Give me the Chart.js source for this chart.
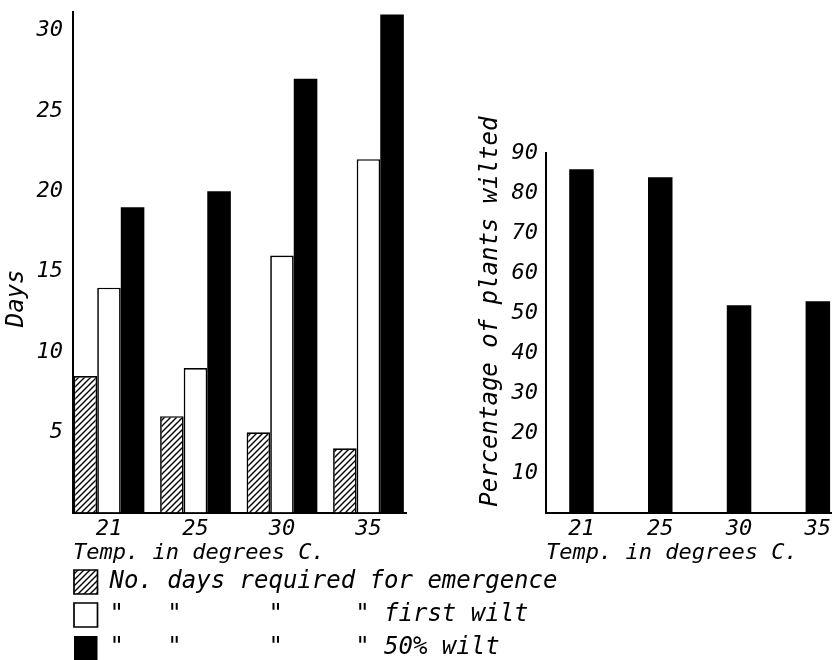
<!DOCTYPE html>
<html><head><meta charset="utf-8">
<script src="https://cdn.jsdelivr.net/npm/chart.js@4.4.1/dist/chart.umd.min.js"></script>
<style>
html,body{margin:0;padding:0;background:#fff;width:834px;height:660px;overflow:hidden;position:relative;}
canvas{position:absolute;left:0;top:0;}
</style></head><body>
<canvas id="days" width="834" height="680"></canvas>
<canvas id="pct" width="834" height="680"></canvas>
<script>
// ---- data ----
const temps = ['21', '25', '30', '35'];
const emergenceDays = [8.5, 6, 5, 4];
const firstWiltDays = [14, 9, 16, 22];
const fiftyWiltDays = [19, 20, 27, 31];
const plantsWiltedPct = [86, 84, 52, 53];
const dayTicks = [5, 10, 15, 20, 25, 30];
const pctTicks = [10, 20, 30, 40, 50, 60, 70, 80, 90];
const legendLabels = [
  'No. days required for emergence',
  '"   "      "     " first wilt',
  '"   "      "     " 50% wilt'
];
const xTitle = 'Temp. in degrees C.';
const daysTitle = 'Days';
const pctTitle = 'Percentage of plants wilted';

// ---- styling ----
const FAM = '"DejaVu Sans Mono", monospace';
const F = (size) => ({ family: FAM, size: size, style: 'italic' });
const INK = '#000';

function makeHatch(ctx) {
  const c = document.createElement('canvas');
  c.width = 6; c.height = 6;
  const g = c.getContext('2d');
  g.fillStyle = '#fff'; g.fillRect(0, 0, 6, 6);
  g.strokeStyle = INK; g.lineWidth = 1.4;
  g.beginPath();
  g.moveTo(0, 6); g.lineTo(6, 0);
  g.moveTo(-1, 1); g.lineTo(1, -1);
  g.moveTo(5, 7); g.lineTo(7, 5);
  g.stroke();
  return ctx.createPattern(c, 'repeat');
}

const toPoints = (arr) => arr.map((v, i) => ({ x: i, y: v }));
const catTicks = (s) => { s.ticks = temps.map((_, i) => ({ value: i })); };
const noPad = (s) => { s.paddingTop = 0; s.paddingBottom = 0; s.paddingLeft = 0; s.paddingRight = 0; };

// lets the y tick labels and the legend draw outside their narrow layout boxes
const widenBoxes = {
  id: 'widenBoxes',
  afterLayout(chart) {
    if (chart.scales.y) chart.scales.y.left = 0;
    if (chart.legend) chart.legend.right = chart.width;
  }
};

const daysCanvas = document.getElementById('days');
const hatch = makeHatch(daysCanvas.getContext('2d'));

new Chart(daysCanvas, {
  type: 'bar',
  data: {
    datasets: [
      { label: legendLabels[0], data: toPoints(emergenceDays), backgroundColor: hatch, borderColor: INK, borderWidth: 1.7 },
      { label: legendLabels[1], data: toPoints(firstWiltDays), backgroundColor: '#fff', borderColor: INK, borderWidth: 1.7 },
      { label: legendLabels[2], data: toPoints(fiftyWiltDays), backgroundColor: INK, borderColor: INK, borderWidth: 0 }
    ]
  },
  plugins: [widenBoxes],
  options: {
    responsive: false,
    animation: false,
    layout: { padding: { left: 65, right: 428, top: 12, bottom: 10 } },
    datasets: { bar: { categoryPercentage: 0.818, barPercentage: 1 } },
    plugins: {
      legend: {
        position: 'bottom', align: 'start',
        labels: { font: F(24), color: INK, boxWidth: 23.5, boxHeight: 24, padding: 9 }
      },
      tooltip: { enabled: false }
    },
    scales: {
      x: {
        type: 'linear', min: -0.416, max: 3.434, offset: false,
        grid: { display: false, drawTicks: false, offset: false },
        border: { display: true, color: INK, width: 2 },
        afterBuildTicks: catTicks,
        afterFit: (s) => { s.height = 48.5; noPad(s); },
        ticks: { font: F(22), color: INK, padding: 3.3, callback: (v) => temps[v] },
        title: { display: true, text: xTitle, align: 'start', font: F(22), color: INK, padding: { top: 0, bottom: -5.2 } }
      },
      y: {
        min: 0, max: 31.16,
        grid: { display: false, drawTicks: false },
        border: { display: true, color: INK, width: 2 },
        afterBuildTicks: (s) => { s.ticks = dayTicks.map((v) => ({ value: v })); },
        afterFit: (s) => { s.width = 8; noPad(s); },
        ticks: { font: F(22), color: INK, padding: 10 },
        title: { display: true, text: daysTitle + '     ', font: F(24), color: INK, padding: { top: 2.6, bottom: 0 } }
      }
    }
  }
});

new Chart(document.getElementById('pct'), {
  type: 'bar',
  data: {
    datasets: [
      { label: pctTitle, data: toPoints(plantsWiltedPct), backgroundColor: INK, borderWidth: 0 }
    ]
  },
  options: {
    responsive: false,
    animation: false,
    layout: { padding: { left: 440, right: 3, top: 153.3, bottom: 113.2 } },
    datasets: { bar: { categoryPercentage: 0.311, barPercentage: 1 } },
    plugins: { legend: { display: false }, tooltip: { enabled: false } },
    scales: {
      x: {
        type: 'linear', min: -0.45, max: 3.167, offset: false,
        grid: { display: false, drawTicks: false, offset: false },
        border: { display: true, color: INK, width: 2 },
        afterBuildTicks: catTicks,
        afterFit: (s) => { s.height = 53.5; noPad(s); },
        ticks: { font: F(22), color: INK, padding: 2.5, callback: (v) => temps[v] },
        title: { display: true, text: xTitle, align: 'start', font: F(22), color: INK, padding: { top: 0, bottom: 0.6 } }
      },
      y: {
        min: 0, max: 90,
        grid: { display: false, drawTicks: false },
        border: { display: true, color: INK, width: 2 },
        afterBuildTicks: (s) => { s.ticks = pctTicks.map((v) => ({ value: v })); },
        afterFit: (s) => { s.width = 106; noPad(s); },
        ticks: { font: F(22), color: INK, padding: 8 },
        title: { display: true, text: '   ' + pctTitle, font: F(24), color: INK, padding: { top: 36.6, bottom: 0 } }
      }
    }
  }
});
</script>
</body></html>
